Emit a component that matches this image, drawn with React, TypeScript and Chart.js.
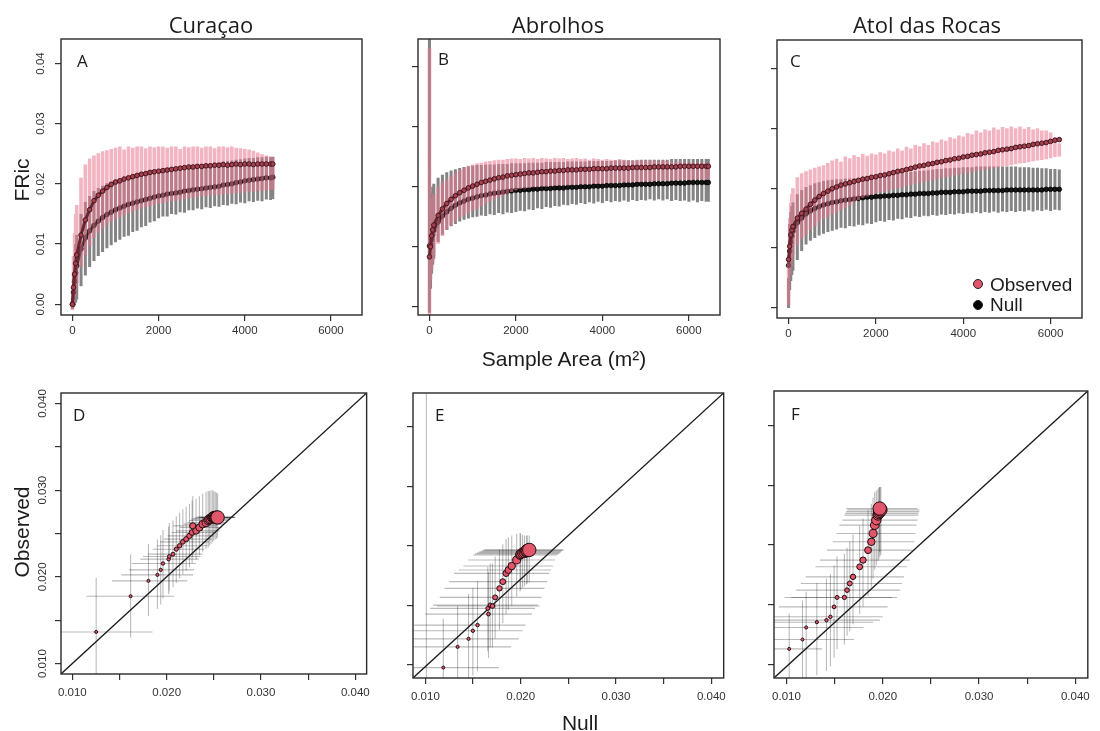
import React, { useEffect, useRef } from 'react';
import { Chart, registerables } from 'chart.js';

Chart.register(...registerables);

// ---------------- DATA ----------------
// Top row: FRic (in units of 1e-4) vs sample area (m²)
const FRIC_UNIT = 1e-4;

const areaA = [0, 25, 50, 75,
  100, 200, 300, 400, 500, 600, 700, 800, 900, 1000,
  1100, 1200, 1300, 1400, 1500, 1600, 1700, 1800, 1900, 2000,
  2100, 2200, 2300, 2400, 2500, 2600, 2700, 2800, 2900, 3000,
  3100, 3200, 3300, 3400, 3500, 3600, 3700, 3800, 3900, 4000,
  4100, 4200, 4300, 4400, 4500, 4600, 4650];
const obsMeanA = [0, 28, 50, 68,
  82, 115, 140, 157, 172, 181, 188, 194, 199, 203,
  205, 208, 210, 212, 214, 216, 217, 219, 220, 221,
  222, 223, 224, 225, 226, 227, 228, 228, 229, 229,
  230, 230, 231, 231, 232, 231, 232, 233, 232, 233,
  233, 232, 233, 233, 233, 233, 233];
const obsLoA = [-10, 0, 12, 25,
  35, 62, 82, 97, 110, 119, 126, 132, 137, 141,
  144, 148, 151, 154, 157, 159, 161, 163, 165, 167,
  168, 170, 171, 172, 174, 175, 176, 177, 178, 179,
  180, 181, 181, 182, 183, 183, 184, 185, 185, 186,
  187, 187, 188, 189, 189, 190, 190];
const obsHiA = [5, 80, 118, 150,
  165, 210, 232, 242, 247, 251, 254, 256, 258, 260,
  262, 257, 262, 260, 262, 262, 259, 262, 261, 262,
  262, 260, 262, 262, 258, 262, 261, 262, 262, 260,
  262, 262, 259, 262, 262, 261, 262, 260, 259, 258,
  257, 255, 252, 249, 247, 245, 244];
const nullMeanA = [0, 20, 38, 52,
  64, 92, 110, 122, 131, 138, 144, 149, 153, 157,
  160, 163, 166, 168, 170, 172, 174, 176, 178, 180,
  181, 183, 184, 185, 186, 188, 189, 190, 191, 192,
  193, 194, 195, 196, 198, 199, 200, 202, 203, 205,
  206, 207, 208, 209, 210, 210, 211];
const nullLoA = [-8, -5, -2, 3,
  8, 30, 48, 62, 72, 80, 87, 93, 98, 103,
  107, 112, 114, 120, 122, 128, 130, 136, 138, 143,
  146, 146, 150, 149, 153, 152, 156, 156, 159, 158,
  161, 160, 163, 162, 165, 164, 167, 166, 169, 168,
  171, 170, 172, 171, 174, 173, 175];
const nullHiA = [10, 50, 80, 100,
  115, 150, 170, 180, 188, 193, 197, 201, 204, 207,
  209, 211, 213, 215, 216, 218, 219, 220, 221, 222,
  223, 224, 225, 226, 227, 228, 229, 230, 231, 232,
  233, 234, 235, 236, 237, 238, 239, 240, 241, 242,
  243, 243, 244, 244, 245, 245, 245];

const areaB = [0, 25, 50, 75,
  100, 200, 300, 400, 500, 600, 700, 800, 900, 1000,
  1100, 1200, 1300, 1400, 1500, 1600, 1700, 1800, 1900, 2000,
  2100, 2200, 2300, 2400, 2500, 2600, 2700, 2800, 2900, 3000,
  3100, 3200, 3300, 3400, 3500, 3600, 3700, 3800, 3900, 4000,
  4100, 4200, 4300, 4400, 4500, 4600, 4700, 4800, 4900, 5000,
  5100, 5200, 5300, 5400, 5500, 5600, 5700, 5800, 5900, 6000,
  6100, 6200, 6300, 6400, 6450];
const obsMeanB = [83, 100, 118, 128,
  136, 152, 163, 172, 179, 185, 190, 194, 198, 201,
  204, 207, 209, 211, 213, 215, 216, 218, 219, 220,
  221, 222, 223, 223, 224, 225, 225, 226, 226, 227,
  227, 228, 228, 228, 229, 229, 229, 230, 230, 230,
  230, 231, 231, 231, 231, 231, 232, 232, 232, 232,
  232, 233, 233, 233, 233, 233, 233, 234, 234, 234,
  234, 234, 234, 234, 234];
const obsLoB = [-15, 45, 62, 75,
  85, 105, 118, 128, 136, 142, 148, 152, 156, 160,
  163, 167, 171, 175, 179, 182, 185, 188, 191, 194,
  196, 197, 198, 199, 199, 200, 200, 201, 201, 202,
  202, 202, 203, 203, 204, 204, 204, 205, 205, 205,
  206, 206, 206, 207, 207, 207, 208, 208, 208, 209,
  209, 209, 210, 210, 210, 210, 211, 211, 211, 211,
  212, 212, 212, 212, 212];
const obsHiB = [431, 150, 170, 180,
  188, 200, 208, 212, 218, 224, 228, 232, 235, 237,
  239, 240, 242, 243, 244, 245, 245, 246, 247, 247,
  246, 248, 247, 248, 246, 248, 247, 246, 248, 247,
  248, 246, 247, 248, 246, 247, 245, 247, 246, 245,
  246, 245, 244, 246, 245, 244, 243, 245, 244, 243,
  244, 243, 242, 244, 243, 242, 241, 242, 241, 240,
  241, 240, 240, 239, 239];
const nullMeanB = [101, 104, 112, 120,
  127, 141, 151, 158, 164, 169, 173, 176, 179, 181,
  183, 185, 186, 188, 189, 190, 191, 192, 193, 194,
  194, 195, 195, 196, 196, 197, 197, 197, 198, 198,
  198, 199, 199, 199, 200, 200, 200, 201, 201, 201,
  202, 202, 202, 202, 203, 203, 203, 204, 204, 204,
  204, 205, 205, 205, 205, 206, 206, 206, 206, 207,
  207, 207, 207, 207, 207];
const nullLoB = [-10, 30, 55, 70,
  80, 108, 120, 128, 134, 138, 142, 145, 147, 149,
  150, 152, 151, 154, 153, 156, 154, 157, 156, 158,
  160, 159, 162, 161, 164, 163, 166, 165, 168, 167,
  170, 169, 171, 170, 173, 171, 174, 172, 175, 173,
  176, 174, 176, 175, 177, 175, 178, 176, 178, 177,
  179, 177, 179, 177, 179, 176, 178, 176, 177, 175,
  177, 174, 176, 175, 175];
const nullHiB = [470, 170, 190, 200,
  205, 215, 220, 224, 227, 229, 231, 233, 234, 235,
  236, 236, 237, 237, 237, 238, 238, 238, 239, 239,
  239, 239, 240, 240, 240, 240, 241, 241, 241, 241,
  241, 242, 242, 242, 242, 242, 243, 243, 243, 243,
  243, 243, 244, 244, 244, 244, 244, 244, 245, 245,
  245, 245, 245, 245, 245, 246, 246, 246, 246, 246,
  246, 246, 246, 246, 246];

const areaC = [0, 25, 50, 75,
  100, 200, 300, 400, 500, 600, 700, 800, 900, 1000,
  1100, 1200, 1300, 1400, 1500, 1600, 1700, 1800, 1900, 2000,
  2100, 2200, 2300, 2400, 2500, 2600, 2700, 2800, 2900, 3000,
  3100, 3200, 3300, 3400, 3500, 3600, 3700, 3800, 3900, 4000,
  4100, 4200, 4300, 4400, 4500, 4600, 4700, 4800, 4900, 5000,
  5100, 5200, 5300, 5400, 5500, 5600, 5700, 5800, 5900, 6000,
  6100, 6200];
const obsMeanC = [81, 103, 122, 130,
  136, 150, 158, 165, 173, 180, 186, 191, 195, 199,
  202, 205, 207, 209, 211, 213, 215, 216, 218, 219,
  221, 222, 224, 226, 228, 229, 231, 233, 235, 237,
  238, 240, 241, 243, 244, 246, 247, 249, 250, 252,
  253, 255, 256, 257, 259, 260, 261, 263, 264, 265,
  266, 268, 269, 270, 271, 273, 274, 275, 276, 278,
  280, 281];
const obsLoC = [5, 55, 70, 80,
  88, 105, 115, 122, 130, 137, 143, 148, 152, 156,
  159, 163, 167, 171, 176, 180, 184, 186, 189, 191,
  193, 194, 196, 198, 200, 201, 203, 205, 207, 209,
  210, 212, 213, 215, 216, 218, 219, 221, 222, 224,
  225, 227, 228, 229, 231, 232, 233, 235, 236, 237,
  238, 240, 241, 242, 243, 245, 246, 247, 248, 250,
  252, 253];
const obsHiC = [85, 150, 175, 190,
  200, 218, 225, 228, 231, 234, 236, 238, 242, 246,
  249, 244, 253, 250, 255, 252, 257, 254, 258, 256,
  260, 258, 263, 261, 266, 263, 269, 266, 272, 270,
  275, 272, 278, 276, 281, 279, 285, 283, 288, 286,
  292, 290, 296, 293, 298, 296, 301, 298, 302, 300,
  303, 300, 303, 299, 302, 298, 300, 296, 296, 293,
  285, 275];
const nullMeanC = [71, 95, 110, 120,
  128, 142, 150, 157, 162, 166, 169, 172, 174, 176,
  177, 179, 180, 181, 182, 183, 184, 185, 185, 186,
  186, 187, 187, 188, 188, 189, 189, 190, 190, 191,
  191, 191, 192, 192, 193, 193, 193, 194, 194, 194,
  195, 195, 195, 195, 196, 196, 196, 196, 196, 197,
  197, 197, 197, 197, 197, 197, 197, 197, 198, 198,
  198, 198];
const nullLoC = [0, 30, 45, 55,
  62, 80, 95, 106, 112, 117, 121, 124, 127, 129,
  131, 134, 133, 137, 136, 139, 138, 141, 140, 143,
  145, 144, 147, 146, 149, 148, 151, 150, 153, 152,
  154, 153, 155, 154, 156, 155, 157, 156, 158, 157,
  159, 158, 160, 158, 160, 159, 161, 159, 161, 160,
  162, 160, 162, 161, 163, 161, 163, 162, 164, 162,
  164, 163];
const nullHiC = [50, 140, 160, 170,
  176, 190, 197, 202, 205, 208, 210, 212, 213, 214,
  215, 215, 216, 216, 217, 217, 218, 218, 219, 219,
  220, 221, 222, 223, 224, 225, 226, 227, 228, 229,
  229, 230, 231, 232, 232, 233, 233, 234, 234, 235,
  235, 235, 236, 236, 236, 236, 236, 236, 236, 236,
  236, 236, 235, 235, 235, 234, 234, 233, 233, 232,
  232, 231];

// Bottom row: Observed vs Null FRic
const nullD = [0.01253, 0.01618, 0.01807, 0.01902, 0.01937, 0.01961, 0.02021, 0.02028, 0.02067, 0.02102, 0.02137, 0.02172, 0.02207, 0.02242, 0.0227, 0.02277, 0.02312, 0.02347, 0.02382, 0.02418, 0.0244, 0.02453, 0.0247, 0.02488, 0.025, 0.02515, 0.02528, 0.0254];
const obsD = [0.01365, 0.01777, 0.01954, 0.02023, 0.02081, 0.02154, 0.02204, 0.02235, 0.02262, 0.02319, 0.02358, 0.02404, 0.02435, 0.02473, 0.02512, 0.02588, 0.0253, 0.02569, 0.02608, 0.02627, 0.0265, 0.02665, 0.02672, 0.02685, 0.0269, 0.02688, 0.02686, 0.02685];
const nullLoD = [0.008, 0.0115, 0.0142, 0.0152, 0.016, 0.0163, 0.0172, 0.0175, 0.018, 0.0185, 0.019, 0.0193, 0.0197, 0.0201, 0.0205, 0.0207, 0.021, 0.0214, 0.0218, 0.0222, 0.0224, 0.0226, 0.0228, 0.023, 0.0232, 0.0233, 0.0235, 0.0236];
const nullHiD = [0.0185, 0.0208, 0.0222, 0.0228, 0.0229, 0.0231, 0.0234, 0.0236, 0.0238, 0.024, 0.0243, 0.0245, 0.0248, 0.025, 0.0252, 0.0253, 0.0256, 0.0258, 0.0261, 0.0264, 0.0265, 0.0267, 0.0268, 0.027, 0.0271, 0.0272, 0.0272, 0.0273];
const obsLoD = [0.008, 0.013, 0.0155, 0.0163, 0.0168, 0.0175, 0.018, 0.0184, 0.0188, 0.0193, 0.0198, 0.0203, 0.0207, 0.0211, 0.0216, 0.0223, 0.022, 0.0225, 0.0229, 0.0232, 0.0234, 0.0236, 0.0238, 0.024, 0.0242, 0.0243, 0.0244, 0.0245];
const obsHiD = [0.0199, 0.0226, 0.0238, 0.0243, 0.0248, 0.0254, 0.0258, 0.0262, 0.0265, 0.027, 0.0274, 0.0278, 0.0281, 0.0284, 0.0288, 0.0293, 0.029, 0.0293, 0.0296, 0.0298, 0.0299, 0.0299, 0.03, 0.03, 0.0299, 0.0298, 0.0297, 0.0296];

const nullE = [0.0101, 0.01188, 0.01338, 0.01453, 0.01498, 0.01547, 0.01662, 0.01655, 0.0168, 0.01704, 0.01732, 0.01777, 0.01812, 0.01847, 0.01871, 0.01906, 0.01958, 0.01993, 0.02, 0.0202, 0.0204, 0.0206, 0.0207, 0.0209];
const obsE = [0.0083, 0.00989, 0.01226, 0.01318, 0.0141, 0.01475, 0.01601, 0.01666, 0.01704, 0.01693, 0.01792, 0.01895, 0.01972, 0.02067, 0.02105, 0.02151, 0.0222, 0.02277, 0.0229, 0.023, 0.0231, 0.0232, 0.0233, 0.02335];
const nullLoE = [0.004, 0.006, 0.007, 0.0078, 0.0082, 0.0088, 0.01, 0.0105, 0.0108, 0.0112, 0.0115, 0.012, 0.0125, 0.013, 0.0135, 0.014, 0.0145, 0.015, 0.0152, 0.0154, 0.0156, 0.0158, 0.016, 0.0162];
const nullHiE = [0.0175, 0.0177, 0.019, 0.0198, 0.0202, 0.0205, 0.0212, 0.0215, 0.0218, 0.022, 0.0222, 0.0225, 0.0228, 0.023, 0.0232, 0.0234, 0.0236, 0.0238, 0.024, 0.0241, 0.0242, 0.0243, 0.0244, 0.0245];
const obsLoE = [-0.001, 0.004, 0.007, 0.008, 0.009, 0.0095, 0.011, 0.0118, 0.0122, 0.0122, 0.0132, 0.0142, 0.015, 0.016, 0.0165, 0.017, 0.018, 0.0186, 0.0188, 0.019, 0.0192, 0.0194, 0.0195, 0.0196];
const obsHiE = [0.0431, 0.0155, 0.017, 0.0183, 0.019, 0.0198, 0.0208, 0.0214, 0.0218, 0.0218, 0.0226, 0.0234, 0.024, 0.0246, 0.0248, 0.025, 0.0252, 0.0253, 0.0252, 0.0251, 0.025, 0.025, 0.025, 0.025];

const nullF = [0.01028, 0.01166, 0.01204, 0.01315, 0.01415, 0.01456, 0.01494, 0.01525, 0.01601, 0.01629, 0.01657, 0.01691, 0.0176, 0.01795, 0.01847, 0.01881, 0.01899, 0.01916, 0.01933, 0.0195, 0.0196, 0.0197, 0.0198, 0.01968];
const obsF = [0.01201, 0.01307, 0.01444, 0.01504, 0.01527, 0.01565, 0.01678, 0.01785, 0.01785, 0.01868, 0.01944, 0.02019, 0.02133, 0.02209, 0.02322, 0.02417, 0.02512, 0.02606, 0.02663, 0.0272, 0.0274, 0.0276, 0.0278, 0.02795];
const nullLoF = [0.006, 0.0065, 0.007, 0.0075, 0.008, 0.0085, 0.0092, 0.0098, 0.0105, 0.011, 0.0115, 0.012, 0.013, 0.0135, 0.0142, 0.0148, 0.0152, 0.0155, 0.0158, 0.016, 0.0161, 0.0162, 0.0163, 0.0162];
const nullHiF = [0.0137, 0.017, 0.018, 0.019, 0.0197, 0.02, 0.0205, 0.021, 0.0215, 0.0218, 0.022, 0.0222, 0.0225, 0.0228, 0.0231, 0.0233, 0.0234, 0.0235, 0.0236, 0.0237, 0.0237, 0.0238, 0.0238, 0.0236];
const obsLoF = [0.006, 0.007, 0.0085, 0.009, 0.0095, 0.01, 0.011, 0.012, 0.0125, 0.0135, 0.014, 0.0148, 0.016, 0.0168, 0.018, 0.019, 0.02, 0.021, 0.0215, 0.022, 0.0222, 0.0225, 0.0227, 0.023];
const obsHiF = [0.016, 0.0175, 0.0185, 0.0195, 0.02, 0.0205, 0.0215, 0.0225, 0.0228, 0.0235, 0.0242, 0.025, 0.026, 0.0268, 0.0278, 0.0285, 0.0292, 0.0298, 0.03, 0.0302, 0.0303, 0.0304, 0.0304, 0.0304];

const oneToOne = [0.005, 0.045];

// Ticks
const areaTicks = [0, 2000, 4000, 6000];
const areaTickLabels = ['0', '2000', '4000', '6000'];
const fricTicks = [0, 0.01, 0.02, 0.03, 0.04];
const fricTickLabels = ['0.00', '0.01', '0.02', '0.03', '0.04'];
const scatterTicks = [0.01, 0.015, 0.02, 0.025, 0.03, 0.035, 0.04];
const scatterTickLabels = ['0.010', '', '0.020', '', '0.030', '', '0.040'];
const scatterYTicksEF = [0.0102, 0.017, 0.0238, 0.0306, 0.0374];

// ---------------- STYLE / HELPERS ----------------
const SANS = '"Liberation Sans", Arial, Helvetica, sans-serif';
const MYR = '"Open Sans", "Noto Sans", sans-serif';
const PAD_L = 55, PAD_T = 8, PAD_R = 8, PAD_B = 34;

function vbars(xs: number[], lo: number[], hi: number[], k: number) {
  const out: any[] = [];
  xs.forEach((x, i) => {
    out.push({ x, y: lo[i] * k }, { x, y: hi[i] * k }, { x, y: null });
  });
  return out;
}
function pts(xs: number[], ys: number[], k: number) {
  return xs.map((x, i) => ({ x, y: ys[i] * k }));
}

function topDatasets(xs, om, olo, ohi, nm, nlo, nhi) {
  return [
    { data: vbars(xs, nlo, nhi, FRIC_UNIT), borderColor: 'rgba(105,105,105,0.82)', borderWidth: 3, pointRadius: 0, order: 4 },
    {
      data: pts(xs, nm, FRIC_UNIT), showLine: true, borderColor: '#111', borderWidth: 3,
      pointRadius: 2.3, pointBackgroundColor: '#151515', pointBorderColor: '#000', pointBorderWidth: 0.8, order: 3,
    },
    { data: vbars(xs, olo, ohi, FRIC_UNIT), borderColor: 'rgba(230,118,140,0.55)', borderWidth: 3.6, pointRadius: 0, order: 2 },
    {
      data: pts(xs, om, FRIC_UNIT), showLine: true, borderColor: '#6a2531', borderWidth: 3,
      pointRadius: 2.3, pointBackgroundColor: '#a3414f', pointBorderColor: '#45161e', pointBorderWidth: 1, order: 1,
    },
  ];
}

// one dataset per sample so that overlapping translucent crosshairs darken
function bottomDatasets(nx, oy, nlo, nhi, olo, ohi) {
  const n = nx.length;
  const cross = nx.map((x, i) => ({
    data: [
      { x: nlo[i], y: oy[i] }, { x: nhi[i], y: oy[i] }, { x, y: null },
      { x, y: olo[i] }, { x, y: ohi[i] },
    ],
    borderColor: 'rgba(0,0,0,0.27)', borderWidth: 1.1, pointRadius: 0, order: 3,
  }));
  return [
    ...cross,
    { data: oneToOne.map((v) => ({ x: v, y: v })), borderColor: '#1a1a1a', borderWidth: 1.3, pointRadius: 0, order: 2 },
    {
      data: nx.map((x, i) => ({ x, y: oy[i] })), showLine: false,
      pointRadius: (c) => 1.5 + 5.2 * Math.pow(c.dataIndex / (n - 1), 2),
      pointBackgroundColor: '#e2566b', pointBorderColor: '#1e0a0e', pointBorderWidth: 1, order: 1,
    },
  ];
}

function decoPlugin(spec) {
  return {
    id: 'deco',
    afterDraw(chart) {
      const { ctx, chartArea: a } = chart;
      ctx.save();
      ctx.strokeStyle = '#2a2a2a';
      ctx.lineWidth = 1.4;
      ctx.strokeRect(a.left, a.top, a.right - a.left, a.bottom - a.top);
      if (spec.yLabels) {
        const ys = chart.scales.y;
        ctx.fillStyle = '#333';
        ctx.font = `11.5px ${SANS}`;
        ctx.textAlign = 'center';
        ctx.textBaseline = 'middle';
        ys.ticks.forEach((t, i) => {
          const lab = spec.yLabels[i];
          if (!lab) return;
          const py = ys.getPixelForValue(t.value);
          ctx.save();
          ctx.translate(a.left - spec.yLabelDx, py);
          ctx.rotate(-Math.PI / 2);
          ctx.fillText(lab, 0, 0);
          ctx.restore();
        });
      }
      ctx.restore();
    },
  };
}

function buildConfig(spec) {
  return {
    type: 'line',
    data: { datasets: spec.datasets },
    options: {
      animation: false,
      responsive: false,
      events: [],
      layout: { padding: { left: 0, top: PAD_T, right: PAD_R, bottom: 0 } },
      plugins: { legend: { display: false }, tooltip: { enabled: false } },
      scales: {
        x: {
          type: 'linear', min: spec.xMin, max: spec.xMax,
          afterBuildTicks: (s) => { s.ticks = spec.xTicks.map((v) => ({ value: v })); },
          afterFit: (s) => { s.height = PAD_B; },
          ticks: {
            autoSkip: false, maxRotation: 0, minRotation: 0, padding: spec.xPad, color: '#333',
            font: { family: SANS, size: 11.5 },
            callback: (v, i) => spec.xLabels[i] ?? '',
          },
          grid: { drawOnChartArea: false, drawTicks: true, tickLength: 6, color: '#333', lineWidth: 1.2 },
          border: { display: false },
        },
        y: {
          type: 'linear', min: spec.yMin, max: spec.yMax,
          afterBuildTicks: (s) => { s.ticks = spec.yTicks.map((v) => ({ value: v })); },
          afterFit: (s) => { s.width = PAD_L; },
          ticks: { display: false },
          grid: { drawOnChartArea: false, drawTicks: true, tickLength: 6, color: '#333', lineWidth: 1.2 },
          border: { display: false },
        },
      },
    },
    plugins: [decoPlugin(spec)],
  };
}

const AREA_MIN = -265, AREA_MAX = 6720;

const panels = [
  {
    box: { l: 61, t: 39, r: 362, b: 315 }, xMin: AREA_MIN, xMax: AREA_MAX, yMin: -0.00178, yMax: 0.04406,
    xTicks: areaTicks, xLabels: areaTickLabels, yTicks: fricTicks, yLabels: fricTickLabels, yLabelDx: 20, xPad: 3,
    datasets: topDatasets(areaA, obsMeanA, obsLoA, obsHiA, nullMeanA, nullLoA, nullHiA),
  },
  {
    box: { l: 418, t: 39, r: 720, b: 315 }, xMin: AREA_MIN, xMax: AREA_MAX, yMin: -0.00139, yMax: 0.04462,
    xTicks: areaTicks, xLabels: areaTickLabels, yTicks: fricTicks, yLabels: null, yLabelDx: 20, xPad: 3,
    datasets: topDatasets(areaB, obsMeanB, obsLoB, obsHiB, nullMeanB, nullLoB, nullHiB),
  },
  {
    box: { l: 777, t: 40, r: 1082, b: 318 }, xMin: AREA_MIN, xMax: AREA_MAX, yMin: -0.00167, yMax: 0.04472,
    xTicks: areaTicks, xLabels: areaTickLabels, yTicks: fricTicks, yLabels: null, yLabelDx: 20, xPad: 3,
    datasets: topDatasets(areaC, obsMeanC, obsLoC, obsHiC, nullMeanC, nullLoC, nullHiC),
  },
  {
    box: { l: 61, t: 393, r: 368, b: 674 }, xMin: 0.0088, xMax: 0.0412, yMin: 0.0088, yMax: 0.0412,
    xTicks: scatterTicks, xLabels: scatterTickLabels, yTicks: scatterTicks, yLabels: scatterTickLabels, yLabelDx: 18, xPad: 6,
    datasets: bottomDatasets(nullD, obsD, nullLoD, nullHiD, obsLoD, obsHiD),
  },
  {
    box: { l: 413, t: 393, r: 724, b: 678 }, xMin: 0.0087, xMax: 0.0413, yMin: 0.0087, yMax: 0.0413,
    xTicks: scatterTicks, xLabels: scatterTickLabels, yTicks: scatterYTicksEF, yLabels: null, yLabelDx: 18, xPad: 6,
    datasets: bottomDatasets(nullE, obsE, nullLoE, nullHiE, obsLoE, obsHiE),
  },
  {
    box: { l: 774, t: 391, r: 1088, b: 678 }, xMin: 0.0087, xMax: 0.0413, yMin: 0.0087, yMax: 0.0413,
    xTicks: scatterTicks, xLabels: scatterTickLabels, yTicks: scatterYTicksEF, yLabels: null, yLabelDx: 18, xPad: 6,
    datasets: bottomDatasets(nullF, obsF, nullLoF, nullHiF, obsLoF, obsHiF),
  },
];

function Panel({ spec }) {
  const ref = useRef<HTMLCanvasElement>(null);
  useEffect(() => {
    const chart = new Chart(ref.current as HTMLCanvasElement, buildConfig(spec) as any);
    return () => chart.destroy();
  }, [spec]);
  const { box } = spec;
  const w = box.r - box.l + PAD_L + PAD_R;
  const h = box.b - box.t + PAD_T + PAD_B;
  return (
    <canvas ref={ref} width={w} height={h}
      style={{ position: 'absolute', left: box.l - PAD_L, top: box.t - PAD_T, width: w, height: h }} />
  );
}

function Txt({ x, y, size, family, children, rotate = 0, align = 'center' }) {
  const tx = align === 'center' ? '-50%' : '0';
  return (
    <div style={{
      position: 'absolute', left: x, top: y, fontSize: size, fontFamily: family, lineHeight: 1,
      whiteSpace: 'nowrap', color: '#1c1c1c',
      transform: `translate(${tx}, -50%)${rotate ? ` rotate(${rotate}deg)` : ''}`,
    }}>{children}</div>
  );
}

function Dot({ x, y, color }) {
  return (
    <div style={{
      position: 'absolute', left: x - 5, top: y - 5, width: 10, height: 10, boxSizing: 'border-box',
      borderRadius: '50%', background: color, border: '1.2px solid #222',
    }} />
  );
}

export default function App() {
  return (
    <div style={{ position: 'absolute', left: 0, top: 0, width: 1100, height: 731, background: '#fff', overflow: 'hidden' }}>
      {panels.map((p, i) => <Panel key={i} spec={p} />)}
      <Txt x={211} y={24} size={22} family={MYR}>Curaçao</Txt>
      <Txt x={558} y={24} size={22} family={MYR}>Abrolhos</Txt>
      <Txt x={927} y={24} size={22} family={MYR}>Atol das Rocas</Txt>
      <Txt x={21} y={180} size={21} family={SANS} rotate={-90}>FRic</Txt>
      <Txt x={21} y={532} size={21} family={SANS} rotate={-90}>Observed</Txt>
      <Txt x={564} y={358} size={21} family={SANS}>Sample Area (m²)</Txt>
      <Txt x={580} y={722} size={21} family={SANS}>Null</Txt>
      <Txt x={77} y={60} size={17} family={MYR} align="left">A</Txt>
      <Txt x={438} y={58} size={17} family={MYR} align="left">B</Txt>
      <Txt x={790} y={60} size={17} family={MYR} align="left">C</Txt>
      <Txt x={73} y={414} size={17} family={MYR} align="left">D</Txt>
      <Txt x={435} y={414} size={17} family={MYR} align="left">E</Txt>
      <Txt x={791} y={413} size={17} family={MYR} align="left">F</Txt>
      <Dot x={978} y={284} color="#e0566b" />
      <Dot x={978} y={305} color="#000" />
      <Txt x={990} y={284} size={19} family={SANS} align="left">Observed</Txt>
      <Txt x={990} y={304} size={19} family={SANS} align="left">Null</Txt>
    </div>
  );
}
